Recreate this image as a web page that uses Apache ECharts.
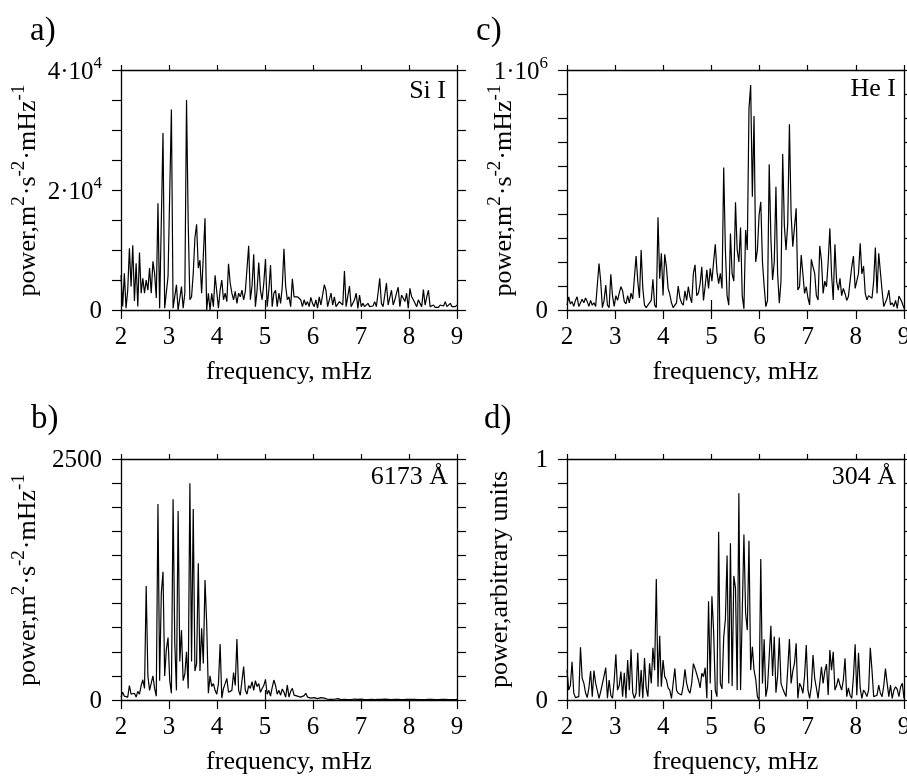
<!DOCTYPE html>
<html><head><meta charset="utf-8">
<script src="https://cdn.jsdelivr.net/npm/echarts@6.0.0/dist/echarts.min.js"></script>
<style>html,body{margin:0;padding:0;background:#fff}#c{width:907px;height:777px}</style>
</head><body><div id="c"></div>
<script>
// ---- data (frequency grid 2..9 mHz) ----
const FREQ_MIN = 2, FREQ_MAX = 9;
const xTickValues = [2, 3, 4, 5, 6, 7, 8, 9];

// a) Si I, m^2 s^-2 mHz^-1
const siI = [5800,600,6100,300,3300,10300,3900,10800,1500,7800,
600,9600,2800,5300,2800,5000,3300,7000,2800,8100,
6100,2000,17800,300,560,29500,300,560,5600,5600,
33400,300,560,4200,0,300,3900,300,2800,35000,
14600,1700,2200,6100,12000,14300,7000,8300,2800,2800,
15300,0,2800,0,2800,560,5800,5600,300,3300,
5000,1700,2800,1400,7700,4500,2800,1700,3100,1100,
2800,2200,3300,1700,3100,3100,10700,1700,4000,9300,
560,3300,7900,3300,1700,4500,8500,560,3300,7500,
560,2800,3300,560,2800,1100,3900,10200,4000,1700,
2200,560,5200,2200,2500,2200,2500,1700,560,1700,
830,1400,560,2100,1100,560,1700,300,2200,830,
560,4200,3300,560,1700,2800,830,2200,560,280,
1400,1100,830,6500,560,280,4000,560,560,1700,
2800,280,2500,560,1100,560,830,1100,560,830,
670,1400,560,2800,5300,1100,560,2500,4500,830,
560,3300,830,1700,2800,3800,560,2500,2800,1400,
2800,280,3600,2200,1700,1950,560,1700,1100,560,
3400,830,2200,3300,560,560,830,440,670,440,
830,560,670,1400,560,440,1100,560,830,560,830];

// c) He I, m^2 s^-2 mHz^-1
const heI = [20000,55000,25000,35000,15000,40000,55000,15000,20000,45000,
30000,50000,35000,15000,40000,20000,30000,15000,10000,194000,
120000,10000,40000,104000,20000,10000,149000,60000,15000,60000,
40000,70000,97000,80000,35000,25000,60000,30000,70000,45000,
40000,225000,120000,50000,250000,90000,20000,10000,20000,15000,
40000,128000,20000,10000,386000,130000,236000,60000,232000,180000,
90000,65000,30000,10000,20000,30000,100000,50000,30000,20000,
80000,40000,97000,55000,30000,153000,188000,60000,70000,110000,
180000,40000,100000,167000,90000,174000,120000,200000,274000,160000,
110000,153000,90000,594000,250000,60000,20000,319000,150000,120000,
449000,250000,200000,344000,60000,5000,333000,250000,840000,937000,
472000,808000,200000,250000,396000,451000,200000,100000,14000,40000,
607000,300000,125000,200000,514000,150000,28000,120000,650000,350000,
250000,361000,774000,400000,264000,257000,424000,83000,97000,229000,
150000,69000,97000,50000,21000,211000,180000,153000,60000,42000,
267000,208000,69000,120000,97000,200000,340000,150000,42000,274000,
120000,83000,132000,60000,90000,69000,40000,56000,120000,180000,
225000,90000,83000,153000,278000,150000,183000,69000,42000,60000,
56000,49000,120000,260000,69000,236000,239000,80000,14000,7000,
50000,83000,21000,30000,14000,40000,7000,58000,45000,28000,7000];

// b) 6173 A, m^2 s^-2 mHz^-1
const fe6173 = [30,80,40,60,30,150,60,40,70,30,
90,60,150,210,120,1183,250,100,80,250,
120,40,2033,200,1107,1331,250,526,647,200,
70,2082,600,100,1961,400,726,200,270,501,
120,2248,400,1981,300,380,1418,300,743,380,
1245,795,70,250,140,170,100,60,170,581,
20,120,170,225,80,60,100,284,150,633,
100,50,200,346,100,60,150,120,190,100,
200,140,170,80,120,150,214,60,100,40,
130,207,150,60,100,50,114,80,30,155,
30,90,121,50,30,40,25,30,20,45,
69,30,15,20,12,25,10,15,20,25,
12,20,15,8,
10,6,12,8,5,14,7,4,9,6,
11,5,8,3,7,10,5,6,4,9,
12,5,7,3,6,8,4,5,10,6,
3,7,5,9,4,6,8,3,5,7,
4,6,11,5,3,6,4,8,5,7,
3,6,4,5,9,4,6,3,5,7,
4,6,5,3,8,4,5,6,3,7,
4,5,6,3,5,4,6];

// d) 304 A, arbitrary units
const he304 = [.125,.041,.06,.159,.03,.01,.007,.014,.219,.09,
.07,.03,.01,.05,.12,.014,.122,.07,.072,.007,
.035,.028,.1,.134,.007,.083,.02,.007,.08,.19,
.041,.06,.118,.014,.113,.007,.166,.041,.21,.03,
.007,.028,.196,.014,.124,.007,.174,.05,.014,.152,
.069,.217,.124,.502,.055,.266,.055,.166,.097,.083,
.05,.041,.007,0,.131,.041,.028,.035,.021,.06,
.127,.069,.041,.028,.069,.151,.131,.138,.083,.05,
.111,.097,.134,.007,.41,.069,.43,.29,.041,.014,
.698,.069,.046,.26,.335,.60,.069,.65,.058,.515,
.463,.041,.858,.041,.044,.687,.36,.29,.661,.124,
.221,.124,.086,.014,0,.585,.069,.252,.014,.053,
.048,.308,.1,.263,.03,.1,.259,.069,.048,.03,
.014,.127,.253,.069,.12,.152,.235,.007,.069,.055,
.028,.1,.228,.041,.007,.055,.187,.09,.05,.007,
.069,.138,.069,.12,.149,.021,.207,.124,.2,.041,
.06,.09,.062,.041,.083,.173,.014,.05,.02,.007,
.097,.231,.02,.196,.05,.007,.041,.03,.014,.041,
.217,.124,.014,.007,.02,.062,.028,.014,.06,.13,
.069,.014,.062,.007,.04,.055,.044,.014,.055,.069,.007];

// y-axis scales and labelled ticks: [value, main text, superscript]
const yMaxes = [40000, 1000000, 2500, 1];
const yIntervals = [5000, 100000, 250, 0.1];
const yLabelsA = [[0, '0'], [20000, '2·10', '4'], [40000, '4·10', '4']];
const yLabelsC = [[0, '0'], [1000000, '1·10', '6']];
const yLabelsB = [[0, '0'], [2500, '2500']];
const yLabelsD = [[0, '0'], [1, '1']];
const xTitle = 'frequency, mHz';
const yTitlePower = [['power,m', ''], ['2', 's'], ['·s', ''], ['-2', 's'], ['·mHz', ''], ['-1', 's']];
const yTitleArb = [['power,arbitrary units', '']];
const panelTags = ['a)', 'c)', 'b)', 'd)'];
const lineNames = ['Si I', 'He I', '6173 Å', '304 Å'];

// ---- presentation ----
const SERIF = '"Liberation Serif","Times New Roman",Times,serif';
const FS = 25, SFS = 17, TFS = 26, TSFS = 19;
const rich = {
  m: {fontFamily: SERIF, fontSize: FS, color: '#000', verticalAlign: 'bottom', lineHeight: FS + 2},
  s: {fontFamily: SERIF, fontSize: SFS, color: '#000', verticalAlign: 'bottom', padding: [0, 0, 12, 0]}
};
const richTitle = {
  m: {fontFamily: SERIF, fontSize: TFS, color: '#000', verticalAlign: 'bottom', lineHeight: TFS + 2},
  s: {fontFamily: SERIF, fontSize: TSFS, color: '#000', verticalAlign: 'bottom', padding: [0, 1, 12, 0]}
};
const grids = [
  {left: 121, top: 70, width: 336, height: 240},
  {left: 567, top: 70, width: 337, height: 240},
  {left: 121, top: 459, width: 336, height: 241},
  {left: 567, top: 459, width: 337, height: 241}
];
const seriesData = [siI, heI, fe6173, he304];
const yLabels = [yLabelsA, yLabelsC, yLabelsB, yLabelsD];
const yTitles = [yTitlePower, yTitlePower, yTitlePower, yTitleArb];
const yNameGaps = [80, 50, 80, 54];

function richText(parts) {
  return parts.map(p => p[1] === 's' ? '{s|' + p[0] + '}' : '{m|' + p[0] + '}').join('');
}
function yFormatter(labels, max) {
  return function (v) {
    const hit = labels.find(l => Math.abs(l[0] - v) < max * 1e-6);
    if (!hit) return '';
    return hit[2] ? '{m|' + hit[1] + '}{s|' + hit[2] + '}' : '{m|' + hit[1] + '}';
  };
}
const black = {color: '#000', width: 1.3};
const xAxes = [], yAxes = [], series = [], graphic = [];
grids.forEach((g, k) => {
  const base = xAxes.length;
  xAxes.push({
    type: 'value', gridIndex: k, position: 'bottom', min: FREQ_MIN, max: FREQ_MAX, interval: 1,
    axisLine: {show: true, onZero: false, lineStyle: black},
    axisTick: {show: true, inside: false, length: 9, lineStyle: {color: '#000', width: 1.2}},
    axisLabel: {show: true, margin: 15, fontFamily: SERIF, fontSize: FS, color: '#000',
      formatter: v => xTickValues.includes(v) ? String(v) : ''},
    splitLine: {show: false},
    name: xTitle, nameLocation: 'middle', nameGap: 49, nameMoveOverlap: false,
    nameTextStyle: {fontFamily: SERIF, fontSize: TFS, color: '#000'}
  });
  xAxes.push({
    type: 'value', gridIndex: k, position: 'top', min: FREQ_MIN, max: FREQ_MAX, interval: 1,
    axisLine: {show: true, onZero: false, lineStyle: black},
    axisTick: {show: true, inside: false, length: 5, lineStyle: {color: '#000', width: 1.2}},
    axisLabel: {show: false}, splitLine: {show: false}
  });
  xAxes.push({
    type: 'value', gridIndex: k, position: 'top', min: FREQ_MIN, max: FREQ_MAX, interval: 1,
    axisLine: {show: false},
    axisTick: {show: true, inside: false, length: 10, customValues: [5], lineStyle: {color: '#000', width: 1.2}},
    axisLabel: {show: false}, splitLine: {show: false}
  });
  const ybase = yAxes.length;
  yAxes.push({
    type: 'value', gridIndex: k, position: 'left', min: 0, max: yMaxes[k], interval: yIntervals[k],
    axisLine: {show: true, onZero: false, lineStyle: black},
    axisTick: {show: true, inside: false, length: 9, lineStyle: {color: '#000', width: 1.2}},
    axisLabel: {show: true, margin: 19, formatter: yFormatter(yLabels[k], yMaxes[k]), rich: rich,
      fontFamily: SERIF, fontSize: FS, color: '#000'},
    splitLine: {show: false},
    name: richText(yTitles[k]), nameLocation: 'middle', nameRotate: 90, nameGap: yNameGaps[k],
    nameMoveOverlap: false,
    nameTextStyle: {fontFamily: SERIF, fontSize: TFS, color: '#000', rich: richTitle}
  });
  yAxes.push({
    type: 'value', gridIndex: k, position: 'right', min: 0, max: yMaxes[k], interval: yIntervals[k],
    axisLine: {show: true, onZero: false, lineStyle: black},
    axisTick: {show: true, inside: false, length: 9, lineStyle: {color: '#000', width: 1.2}},
    axisLabel: {show: false}, splitLine: {show: false}
  });
  const vals = seriesData[k];
  const step = (FREQ_MAX - FREQ_MIN) / (vals.length - 1);
  series.push({
    type: 'line', xAxisIndex: base, yAxisIndex: ybase,
    data: vals.map((v, i) => [FREQ_MIN + i * step, v]),
    showSymbol: false, symbol: 'none', clip: true,
    lineStyle: {color: '#000', width: 1.2}, silent: true
  });
});
const tagPos = [[30, 31], [476, 31], [31, 419], [484, 419]];
const namePos = [[446, 91], [896, 89], [448, 477], [896, 477]];
panelTags.forEach((t, k) => {
  graphic.push({type: 'text', x: tagPos[k][0], y: tagPos[k][1],
    style: {text: t, fontFamily: SERIF, fontSize: 33, fill: '#000', align: 'left', verticalAlign: 'middle'}});
  graphic.push({type: 'text', x: namePos[k][0], y: namePos[k][1],
    style: {text: lineNames[k], fontFamily: SERIF, fontSize: 26, fill: '#000', align: 'right', verticalAlign: 'middle'}});
});

const chart = echarts.init(document.getElementById('c'), null, {renderer: 'canvas'});
chart.setOption({
  backgroundColor: '#fff',
  animation: false,
  grid: grids.map(g => Object.assign({containLabel: false, outerBoundsMode: 'none'}, g)),
  xAxis: xAxes, yAxis: yAxes, series: series, graphic: graphic
});
</script></body></html>
